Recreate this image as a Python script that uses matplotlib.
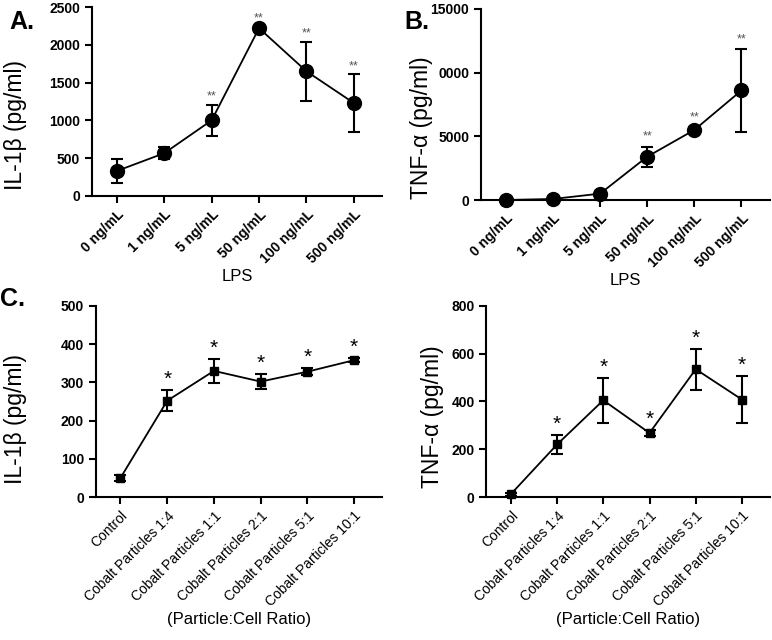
import matplotlib.pyplot as plt

plt.rcParams['font.family'] = ['Liberation Sans', 'DejaVu Sans']

# LPS doses (panels A, B)
lps_labels = ['0 ng/mL', '1 ng/mL', '5 ng/mL', '50 ng/mL', '100 ng/mL', '500 ng/mL']
il1b_lps = [330, 565, 1000, 2220, 1650, 1230]
il1b_lps_err = [160, 80, 205, 20, 390, 380]
il1b_lps_sig = ['', '', '**', '**', '**', '**']

tnf_lps = [0, 80, 500, 3400, 5500, 8600]
tnf_lps_err = [0, 50, 100, 800, 200, 3250]
tnf_lps_sig = ['', '', '', '**', '**', '**']

# Cobalt particles (panels C, D)
cobalt_labels = ['Control', 'Cobalt Particles 1:4', 'Cobalt Particles 1:1',
                 'Cobalt Particles 2:1', 'Cobalt Particles 5:1', 'Cobalt Particles 10:1']
il1b_co = [50, 252, 330, 302, 328, 358]
il1b_co_err = [8, 28, 32, 20, 10, 6]
tnf_co = [12, 220, 405, 268, 535, 408]
tnf_co_err = [6, 38, 95, 12, 86, 100]
co_sig = ['', '*', '*', '*', '*', '*']

fig = plt.figure(figsize=(7.72, 6.40), dpi=100)
axA = fig.add_axes([0.119, 0.694, 0.376, 0.295])
axB = fig.add_axes([0.623, 0.6875, 0.374, 0.2985])
axC = fig.add_axes([0.124, 0.2234, 0.371, 0.2986])
axD = fig.add_axes([0.630, 0.2234, 0.367, 0.2986])


def style(ax, labels, ylim, yticks, ylabel, xlabel, ylab_xy, ytl=None, xbold=True, xsize=10):
    x = range(len(labels))
    ax.set_xlim(-0.53, 5.6)
    ax.set_ylim(*ylim)
    ax.set_yticks(yticks)
    if ytl is not None:
        ax.set_yticklabels(ytl)
    ax.set_xticks(list(x))
    ax.set_xticklabels(labels, rotation=45, ha='right', rotation_mode='anchor',
                       fontsize=xsize, fontweight='bold' if xbold else 'normal')
    for s in ['top', 'right']:
        ax.spines[s].set_visible(False)
    for s in ['left', 'bottom']:
        ax.spines[s].set_linewidth(1.5)
    ax.tick_params(width=1.5, length=5)
    ax.tick_params(axis='y', labelsize=10)
    for t in ax.get_yticklabels():
        t.set_fontweight('bold')
    ax.set_ylabel(ylabel, fontsize=16.5)
    ax.yaxis.set_label_coords(*ylab_xy)
    ax.set_xlabel(xlabel, fontsize=12, labelpad=2)


def draw(ax, vals, errs, sig, marker, ms, star_size, star_color, off):
    x = list(range(len(vals)))
    ax.errorbar(x, vals, yerr=errs, color='black', marker=marker, ms=ms,
                lw=1.3, elinewidth=1.5, capsize=4, capthick=1.5, clip_on=False, zorder=3)
    for xi, v, e, s in zip(x, vals, errs, sig):
        if s:
            ax.text(xi, v + e + off, s, ha='center', va='bottom', fontsize=star_size,
                    color=star_color, clip_on=False)


style(axA, lps_labels, (0, 2500), [0, 500, 1000, 1500, 2000, 2500], 'IL-1β (pg/ml)', 'LPS',
      (-0.225, 0.376))
draw(axA, il1b_lps, il1b_lps_err, il1b_lps_sig, 'o', 10, 9, '#555555', 30)

style(axB, lps_labels, (0, 15000), [0, 5000, 10000, 15000], 'TNF-α (pg/ml)', 'LPS',
      (-0.165, 0.377), ytl=['0', '5000', '0000', '15000'])
draw(axB, tnf_lps, tnf_lps_err, tnf_lps_sig, 'o', 10, 9, '#555555', 300)

style(axC, cobalt_labels, (0, 500), [0, 100, 200, 300, 400, 500], 'IL-1β (pg/ml)',
      '(Particle:Cell Ratio)', (-0.24, 0.41), xbold=False, xsize=10)
draw(axC, il1b_co, il1b_co_err, co_sig, 's', 6, 15, 'black', 2)

style(axD, cobalt_labels, (0, 800), [0, 200, 400, 600, 800], 'TNF-α (pg/ml)',
      '(Particle:Cell Ratio)', (-0.15, 0.42), xbold=False, xsize=10)
draw(axD, tnf_co, tnf_co_err, co_sig, 's', 6, 15, 'black', 5)

for ax in [axC, axD]:
    ax.xaxis.set_label_coords(0.5, -0.6)

fig.text(0.012, 0.955, 'A.', fontsize=18, fontweight='bold')
fig.text(0.524, 0.955, 'B.', fontsize=18, fontweight='bold')
fig.text(0.0, 0.522, 'C.', fontsize=18, fontweight='bold')

fig.savefig('out.png', dpi=100)
